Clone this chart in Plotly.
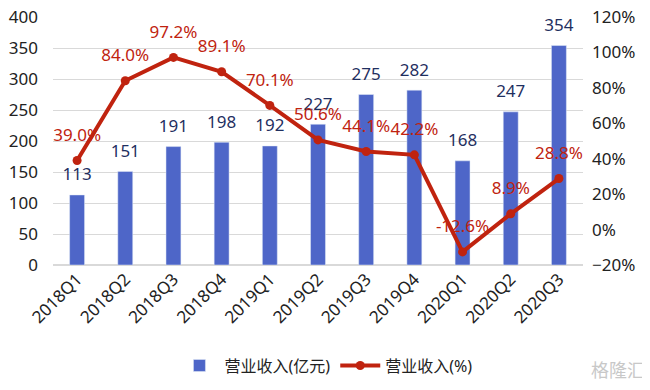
import plotly.graph_objects as go

categories = ["2018Q1", "2018Q2", "2018Q3", "2018Q4", "2019Q1", "2019Q2",
              "2019Q3", "2019Q4", "2020Q1", "2020Q2", "2020Q3"]
revenue = [113, 151, 191, 198, 192, 227, 275, 282, 168, 247, 354]
growth = [39.0, 84.0, 97.2, 89.1, 70.1, 50.6, 44.1, 42.2, -12.6, 8.9, 28.8]

FONT = "Noto Sans, Noto Sans CJK SC, sans-serif"
BAR_C = "#4E66C8"
LINE_C = "#C0230F"
NAVY = "#1F2F5F"

fig = go.Figure()
fig.add_trace(go.Bar(
    x=categories, y=revenue, name="营业收入(亿元)",
    marker_color=BAR_C, width=0.31,
))
fig.add_trace(go.Scatter(
    x=categories, y=growth, name="营业收入(%)", yaxis="y2",
    mode="lines+markers",
    line=dict(color=LINE_C, width=4),
    marker=dict(color=LINE_C, size=9),
))
# value labels
fig.add_trace(go.Scatter(
    x=categories, y=revenue, mode="markers+text", showlegend=False,
    marker=dict(size=15, opacity=0), hoverinfo="skip",
    text=[str(v) for v in revenue], textposition="top center",
    textfont=dict(color=NAVY, size=17, family=FONT), cliponaxis=False,
))
fig.add_trace(go.Scatter(
    x=categories, y=growth, yaxis="y2", mode="markers+text", showlegend=False,
    marker=dict(size=23, opacity=0), hoverinfo="skip",
    text=[f"{v:.1f}%" for v in growth], textposition="top center",
    textfont=dict(color=LINE_C, size=17, family=FONT), cliponaxis=False,
))

fig.update_layout(
    width=642, height=382,
    margin=dict(l=45, r=67, t=9, b=124),
    paper_bgcolor="white", plot_bgcolor="white",
    font=dict(family=FONT, size=16, color="#222222"),
    xaxis=dict(tickangle=-45, showgrid=False, showline=False, ticks="",
               tickfont=dict(size=17), automargin=False, range=[-0.5, 10.5]),
    yaxis=dict(range=[0, 400], dtick=50, showgrid=True, gridcolor="#D9D9D9",
               gridwidth=1, zeroline=True, zerolinecolor="#D9D9D9",
               tickfont=dict(size=17), ticks="", showline=False, automargin=False,
               ticklabelstandoff=14, ticklabeloverflow="allow"),
    yaxis2=dict(range=[-20, 120], dtick=20, overlaying="y", side="right",
                showgrid=False, zeroline=False, ticksuffix="%",
                tickfont=dict(size=17), ticks="", showline=False, automargin=False,
                ticklabelstandoff=8, ticklabeloverflow="allow"),
    legend=dict(orientation="h", x=0.515, xanchor="center", y=-0.40, yanchor="middle",
                font=dict(size=16), itemwidth=40),
    showlegend=True,
)
fig.add_annotation(text="格隆汇", xref="paper", yref="paper", x=1.12, y=-0.478,
                   xanchor="right", yanchor="bottom", showarrow=False,
                   font=dict(size=18, color="#C8C8C8", family=FONT))

fig.write_html("out.html")
